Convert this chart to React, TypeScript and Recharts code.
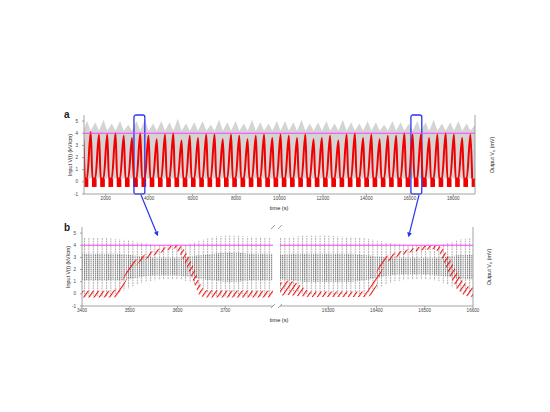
import {
  ComposedChart,
  Area,
  Line,
  XAxis,
  YAxis,
  ReferenceLine,
  ReferenceArea,
} from "recharts";

const FONT = "'Liberation Sans', Arial, sans-serif";
const RED = "#f00000";
const MAGENTA = "#ff3cff";
const BLUE = "#2b35f0";
const FRAME = "#8c8c8c";

// ---- panel a: one pulse per cycle ----
const aPeakTime = [
  960, 1310, 1690, 2070, 2450, 2830, 3210, 3590, 3970, 4350, 4730, 5110, 5490, 5870, 6250, 6630,
  7010, 7390, 7770, 8150, 8530, 8910, 9290, 9670, 10050, 10430, 10810, 11190, 11570, 11950, 12330,
  12710, 13090, 13470, 13850, 14230, 14610, 14990, 15370, 15750, 16130, 16510, 16890, 17270, 17650,
  18030, 18410, 18790,
];
const aPeakValue = [
  3.9, 4.1, 3.9, 3.9, 4.0, 3.8, 3.6, 4.0, 3.8, 3.5, 3.9, 4.0, 3.4, 3.8, 3.6, 3.9, 3.9, 3.5, 3.9, 3.8,
  3.5, 3.8, 3.9, 3.6, 3.9, 3.8, 3.6, 3.9, 3.5, 3.6, 3.8, 3.4, 3.9, 4.0, 3.6, 3.9, 3.5, 3.8, 3.8, 4.0,
  3.9, 3.9, 3.6, 3.9, 4.0, 3.9, 3.6, 3.9,
];
const aGrayTop = [
  4.8, 5.0, 4.9, 5.1, 4.8, 5.0, 4.7, 5.0, 5.1, 4.8, 5.0, 4.9, 5.2, 4.8, 4.9, 5.0, 4.7, 5.1, 4.9, 5.0,
  4.8, 5.1, 4.9, 4.8, 5.0, 5.0, 4.9, 5.1, 4.8, 4.9, 5.0, 4.8, 5.1, 4.9, 4.8, 5.0, 4.9, 4.7, 5.0, 4.9,
  4.8, 5.0, 4.9, 5.1, 4.8, 4.9, 5.0, 4.8,
];
const PULSE_RISE = 170; // s before the peak where the lobe leaves the floor
const PULSE_FALL = 80; // s after the peak where it is back
const GAP_BEFORE = 110; // the fast red floor stops this long before a peak
const GAP_AFTER = 55; // and starts again this long after it
const BAND_LO = -0.42;
const BAND_HI = 0.28;
const GRAY_NOTCH = 4.2;
const GRAY_END = 4.7;
const THRESHOLD = 4;

const A_DOMAIN = [1000, 19000];
const aTicks = [2000, 4000, 6000, 8000, 10000, 12000, 14000, 16000, 18000];
const kvTicks = [-1, 0, 1, 2, 3, 4, 5];
const mvTicks = [0, 5, 10, 15, 20];
const KV_DOMAIN = [-1, 5.5];
const MV_DOMAIN = [-2.7, 23.3];

// ---- panel b: zoomed windows ----
const bLeftTicks = [3400, 3500, 3600, 3700];
const bRightTicks = [16300, 16400, 16500, 16600];

const bLeftT = [3400, 3425, 3450, 3475, 3500, 3525, 3550, 3575, 3600, 3625, 3650, 3675, 3700, 3725, 3750, 3775, 3800];
const bLeftOutLo = [-0.2, -0.2, -0.2, 0.0, 0.5, 0.9, 1.1, 1.2, 1.2, 1.0, 0.4, -0.2, -0.2, -0.2, -0.2, -0.2, -0.2];
const bLeftOutHi = [4.6, 4.6, 4.6, 4.5, 4.4, 4.2, 4.0, 3.9, 3.9, 4.1, 4.4, 4.7, 4.8, 4.8, 4.7, 4.7, 4.6];
const bLeftInLo = [1.1, 1.1, 1.1, 1.1, 1.2, 1.4, 1.5, 1.5, 1.5, 1.4, 1.2, 1.1, 1.0, 1.0, 1.1, 1.1, 1.1];
const bLeftInHi = [3.3, 3.3, 3.3, 3.3, 3.2, 3.1, 3.0, 3.0, 3.0, 3.1, 3.2, 3.3, 3.4, 3.4, 3.3, 3.3, 3.3];

const bRightT = [16200, 16225, 16250, 16275, 16300, 16325, 16350, 16375, 16400, 16425, 16450, 16475, 16500, 16525, 16550, 16575, 16600];
const bRightOutLo = [0.3, 0.2, 0.0, -0.1, -0.1, -0.1, -0.1, 0.0, 0.4, 0.9, 1.1, 1.2, 1.2, 1.1, 0.7, 0.2, 0.0];
const bRightOutHi = [4.6, 4.7, 4.8, 4.8, 4.8, 4.7, 4.7, 4.6, 4.4, 4.2, 4.1, 4.0, 4.0, 4.0, 4.2, 4.5, 4.6];
const bRightInLo = [1.2, 1.1, 1.0, 1.0, 1.0, 1.0, 1.0, 1.1, 1.3, 1.5, 1.6, 1.6, 1.6, 1.5, 1.4, 1.2, 1.2];
const bRightInHi = [3.2, 3.3, 3.3, 3.3, 3.3, 3.3, 3.3, 3.2, 3.1, 3.0, 3.0, 3.0, 3.0, 3.0, 3.1, 3.2, 3.2];

const bLeftRedT = [3400, 3465, 3475, 3485, 3495, 3505, 3520, 3540, 3560, 3580, 3595, 3605, 3615, 3625, 3635, 3645, 3655, 3800];
const bLeftRedLo = [-0.3, -0.3, -0.25, 0.4, 1.3, 2.0, 2.6, 3.0, 3.3, 3.6, 3.75, 3.3, 2.6, 1.8, 0.8, -0.1, -0.3, -0.3];
const bLeftRedHi = [0.25, 0.25, 0.5, 1.2, 2.0, 2.6, 3.0, 3.4, 3.7, 3.9, 4.05, 3.95, 3.6, 2.9, 2.1, 1.0, 0.3, 0.25];

const bRightRedT = [16200, 16215, 16230, 16245, 16260, 16380, 16390, 16400, 16410, 16420, 16440, 16460, 16480, 16500, 16520, 16530, 16540, 16550, 16560, 16570, 16580, 16590, 16600];
const bRightRedLo = [-0.15, -0.1, -0.15, -0.2, -0.25, -0.25, -0.1, 0.6, 1.8, 2.6, 3.0, 3.3, 3.5, 3.6, 3.7, 3.4, 2.6, 1.7, 0.9, 0.3, -0.1, -0.2, -0.25];
const bRightRedHi = [0.9, 1.1, 1.0, 0.6, 0.2, 0.2, 0.8, 1.8, 2.7, 3.1, 3.4, 3.6, 3.8, 3.95, 4.0, 3.95, 3.6, 3.0, 2.3, 1.5, 1.0, 0.6, 0.5];

// tables
const aRed = aPeakTime.flatMap((t, i) => [
  { t: t - PULSE_RISE, v: BAND_HI },
  { t, v: aPeakValue[i] },
  { t: t + PULSE_FALL, v: BAND_HI },
]);
const aGray = [
  ...aPeakTime.flatMap((t, i) => [
    { t: t - PULSE_RISE, g: [BAND_HI, aGrayTop[i]] },
    { t, g: [BAND_HI, GRAY_NOTCH] },
  ]),
  { t: A_DOMAIN[1], g: [BAND_HI, GRAY_END] },
];
const aBands = aPeakTime.map((t, i) => [
  t + GAP_AFTER,
  i + 1 < aPeakTime.length ? aPeakTime[i + 1] - GAP_BEFORE : A_DOMAIN[1],
]);

const grayRows = (ts: number[], ol: number[], oh: number[], il: number[], ih: number[]) =>
  ts.map((t, i) => ({ t, outer: [ol[i], oh[i]], inner: [il[i], ih[i]] }));
const redRows = (ts: number[], lo: number[], hi: number[]) => ts.map((t, i) => ({ t, band: [lo[i], hi[i]] }));

const bLeftGray = grayRows(bLeftT, bLeftOutLo, bLeftOutHi, bLeftInLo, bLeftInHi);
const bRightGray = grayRows(bRightT, bRightOutLo, bRightOutHi, bRightInLo, bRightInHi);
const bLeftRed = redRows(bLeftRedT, bLeftRedLo, bLeftRedHi);
const bRightRed = redRows(bRightRedT, bRightRedLo, bRightRedHi);

const tickStyle = { fontSize: 4.6, fill: "#444", fontFamily: FONT };
const lineStyle = { stroke: FRAME, strokeWidth: 0.8 };

function Patterns({ id }: { id: string }) {
  return (
    <defs>
      <pattern id={`${id}-out`} patternUnits="userSpaceOnUse" width={4.4} height={2.6}>
        <rect x={0} y={0} width={1} height={1.8} fill="#ababab" />
      </pattern>
      <pattern id={`${id}-in`} patternUnits="userSpaceOnUse" width={2.2} height={2}>
        <rect x={0} y={0} width={1} height={1.5} fill="#7c7c7c" />
      </pattern>
      <pattern id={`${id}-red`} patternUnits="userSpaceOnUse" width={4.2} height={4} patternTransform="rotate(35)">
        <rect x={0} y={0} width={1.1} height={4} fill="#ee1111" />
      </pattern>
    </defs>
  );
}

function ZoomHalf({
  id,
  domain,
  ticks,
  gray,
  red,
  side,
}: {
  id: string;
  domain: number[];
  ticks: number[];
  gray: { t: number; outer: number[]; inner: number[] }[];
  red: { t: number; band: number[] }[];
  side: "left" | "right";
}) {
  return (
    <ComposedChart
      width={side === "left" ? 211 : 213}
      height={93}
      margin={{ top: 2, right: 0, bottom: 0, left: 0 }}
    >
      <Patterns id={id} />
      <XAxis
        dataKey="t"
        type="number"
        domain={domain}
        ticks={ticks}
        interval={0}
        allowDataOverflow
        height={12}
        tick={tickStyle}
        tickSize={2}
        tickMargin={1}
        tickLine={lineStyle}
        axisLine={lineStyle}
      />
      <XAxis xAxisId="top" orientation="top" type="number" domain={domain} height={0} tick={false} tickLine={false} axisLine={lineStyle} />
      <YAxis
        yAxisId="kv"
        type="number"
        domain={KV_DOMAIN}
        ticks={kvTicks}
        interval={0}
        allowDataOverflow
        hide={side === "right"}
        width={20}
        tick={tickStyle}
        tickSize={2}
        tickMargin={4}
        tickLine={lineStyle}
        axisLine={lineStyle}
      />
      {side === "right" && (
        <YAxis
          yAxisId="mv"
          orientation="right"
          type="number"
          domain={MV_DOMAIN}
          ticks={mvTicks}
          interval={0}
          width={20}
          tick={tickStyle}
          tickSize={2}
          tickMargin={5}
          tickLine={lineStyle}
          axisLine={lineStyle}
        />
      )}
      <Area yAxisId="kv" data={gray} dataKey="outer" stroke="none" fill={`url(#${id}-out)`} fillOpacity={1} isAnimationActive={false} />
      <Area yAxisId="kv" data={gray} dataKey="inner" stroke="none" fill={`url(#${id}-in)`} fillOpacity={1} isAnimationActive={false} />
      <Area yAxisId="kv" data={red} dataKey="band" stroke="none" fill={`url(#${id}-red)`} fillOpacity={1} isAnimationActive={false} />
      <ReferenceLine yAxisId="kv" y={THRESHOLD} stroke={MAGENTA} strokeWidth={1.1} />
    </ComposedChart>
  );
}

export default function App() {
  return (
    <div
      style={{
        position: "absolute",
        left: 0,
        top: 0,
        width: 550,
        height: 412,
        background: "#fff",
        fontFamily: FONT,
      }}
    >
      <div style={{ position: "absolute", left: 64, top: 113 }}>
        <ComposedChart width={431} height={93} margin={{ top: 2, right: 0, bottom: 0, left: 0 }}>
          <XAxis
            dataKey="t"
            type="number"
            domain={A_DOMAIN}
            ticks={aTicks}
            interval={0}
            allowDataOverflow
            height={12}
            tick={tickStyle}
            tickSize={2}
            tickMargin={1}
            tickLine={lineStyle}
            axisLine={lineStyle}
          />
          <XAxis xAxisId="top" orientation="top" type="number" domain={A_DOMAIN} height={0} tick={false} tickLine={false} axisLine={lineStyle} />
          <YAxis
            yAxisId="kv"
            type="number"
            domain={KV_DOMAIN}
            ticks={kvTicks}
            interval={0}
            allowDataOverflow
            width={20}
            tick={tickStyle}
            tickSize={2}
            tickMargin={4}
            tickLine={lineStyle}
            axisLine={lineStyle}
          />
          <YAxis
            yAxisId="mv"
            orientation="right"
            type="number"
            domain={MV_DOMAIN}
            ticks={mvTicks}
            interval={0}
            width={20}
            tick={tickStyle}
            tickSize={2}
            tickMargin={5}
            tickLine={lineStyle}
            axisLine={lineStyle}
          />
          <Area yAxisId="kv" data={aGray} dataKey="g" stroke="none" fill="#d4d4d4" fillOpacity={1} isAnimationActive={false} />
          {aBands.map(([x1, x2], i) => (
            <ReferenceArea key={i} yAxisId="kv" x1={x1} x2={x2} y1={BAND_LO} y2={BAND_HI} fill={RED} fillOpacity={1} stroke="none" />
          ))}
          <Line
            yAxisId="kv"
            type="monotone"
            data={aRed}
            dataKey="v"
            stroke={RED}
            strokeWidth={2}
            strokeLinejoin="round"
            dot={false}
            activeDot={false}
            isAnimationActive={false}
          />
          <ReferenceLine yAxisId="kv" y={THRESHOLD} stroke={MAGENTA} strokeWidth={1.1} />
          <ReferenceArea yAxisId="kv" x1={3300} x2={3800} y1={KV_DOMAIN[0]} y2={KV_DOMAIN[1]} fill="none" stroke={BLUE} strokeWidth={1.3} radius={2} />
          <ReferenceArea yAxisId="kv" x1={16050} x2={16550} y1={KV_DOMAIN[0]} y2={KV_DOMAIN[1]} fill="none" stroke={BLUE} strokeWidth={1.3} radius={2} />
        </ComposedChart>
      </div>

      <div style={{ position: "absolute", left: 62, top: 225 }}>
        <ZoomHalf id="bl" domain={[3400, 3800]} ticks={bLeftTicks} gray={bLeftGray} red={bLeftRed} side="left" />
      </div>
      <div style={{ position: "absolute", left: 280, top: 225 }}>
        <ZoomHalf id="br" domain={[16200, 16600]} ticks={bRightTicks} gray={bRightGray} red={bRightRed} side="right" />
      </div>

      <svg width={550} height={412} style={{ position: "absolute", left: 0, top: 0, pointerEvents: "none" }}>
        <defs>
          <marker id="arrow" markerWidth={4} markerHeight={4} refX={2} refY={2} orient="auto">
            <path d="M0,0 L4,2 L0,4 z" fill={BLUE} />
          </marker>
        </defs>
        <line x1={141} y1={195} x2={157} y2={234} stroke={BLUE} strokeWidth={1.2} markerEnd="url(#arrow)" />
        <line x1={419} y1={195} x2={409} y2={235} stroke={BLUE} strokeWidth={1.2} markerEnd="url(#arrow)" />

        {/* axis break */}
        <g stroke="#777" strokeWidth={0.7}>
          <line x1={271} y1={229} x2={275} y2={225} />
          <line x1={278} y1={229} x2={282} y2={225} />
          <line x1={271} y1={308} x2={275} y2={304} />
          <line x1={278} y1={308} x2={282} y2={304} />
        </g>

        <g fontFamily={FONT} fill="#222">
          <text x={64} y={118} fontSize={10} fontWeight="bold">a</text>
          <text x={64} y={231} fontSize={10} fontWeight="bold">b</text>

          <text x={279} y={210} fontSize={5.6} textAnchor="middle">time (s)</text>
          <text x={279} y={322} fontSize={5.6} textAnchor="middle">time (s)</text>

          <text transform="translate(72,155) rotate(-90)" fontSize={5.4} textAnchor="middle">Input V(t) (kV/cm)</text>
          <text transform="translate(70,267) rotate(-90)" fontSize={5.4} textAnchor="middle">Input V(t) (kV/cm)</text>

          <text transform="translate(494,155) rotate(-90)" fontSize={5.4} textAnchor="middle">
            Output V<tspan fontSize={4} dy={1.3}>o</tspan>
            <tspan dy={-1.3}> (mV)</tspan>
          </text>
          <text transform="translate(491,267) rotate(-90)" fontSize={5.4} textAnchor="middle">
            Output V<tspan fontSize={4} dy={1.3}>o</tspan>
            <tspan dy={-1.3}> (mV)</tspan>
          </text>
        </g>
      </svg>
    </div>
  );
}
